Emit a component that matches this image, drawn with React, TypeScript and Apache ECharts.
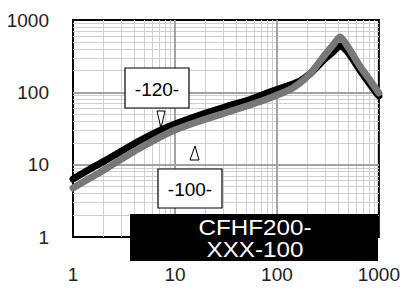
import React, { useEffect, useRef } from "react";
import * as echarts from "echarts";

// Frequency (x) values, log scale
const freq = [1, 1.47, 2.01, 2.89, 4.54, 7.14, 10, 17.6, 30.9, 54.4, 85, 134, 168, 210, 252, 295, 355, 387, 415, 454, 520, 650, 816, 1000];
// -100 curve (gray)
const gray100 = [4.76, 6.54, 8.44, 11.6, 17.0, 24.1, 30.2, 40.2, 51.8, 66.8, 83.5, 109, 135, 179, 246, 328, 451, 529, 582, 513, 385, 231, 148, 98];
// -120 curve (black)
const black120 = [6.34, 8.72, 11.1, 15.0, 21.6, 29.7, 36.5, 48.6, 62.7, 79.6, 101, 126, 143, 179, 231, 289, 361, 410, 437, 410, 328, 204, 130, 89];

const xTickLabels = ["1", "10", "100", "1000"];
const yTickLabels = ["1", "10", "100", "1000"];
const decades = [1, 10, 100];
const majorLines = [10, 100];
const minorMultipliers = [2, 3, 4, 5, 6, 7, 8, 9];

const FONT = "'Liberation Sans', Arial, sans-serif";

export default function App() {
  const ref = useRef<HTMLDivElement>(null);
  useEffect(() => {
    if (!ref.current) return;
    const chart = echarts.init(ref.current, undefined, { renderer: "svg" });
    const minorVals: number[] = [];
    decades.forEach((d) => minorMultipliers.forEach((m) => minorVals.push(d * m)));
    const minorStyle = { color: "#cfcfcf", width: 1, type: "solid" as const };
    const majorStyle = { color: "#a3a3a3", width: 2, type: "solid" as const };
    const gridLines: any[] = [];
    minorVals.forEach((v) => {
      gridLines.push({ xAxis: v, lineStyle: minorStyle });
      gridLines.push({ yAxis: v, lineStyle: minorStyle });
    });
    majorLines.forEach((v) => {
      gridLines.push({ xAxis: v, lineStyle: majorStyle });
      gridLines.push({ yAxis: v, lineStyle: majorStyle });
    });
    const fmt = (labels: string[]) => (v: number) => {
      const i = Math.round(Math.log10(v));
      return labels[i] ?? String(Math.round(v));
    };
    chart.setOption({
      animation: false,
      backgroundColor: "#fff",
      grid: {
        left: 73,
        top: 20,
        right: 24,
        bottom: 55,
        show: true,
        borderColor: "#000",
        borderWidth: 2,
        backgroundColor: "#fff",
      },
      xAxis: {
        type: "log",
        logBase: 10,
        min: 1,
        max: 1000,
        axisLine: { show: false },
        axisTick: { show: false },
        splitLine: { show: false },
        axisLabel: {
          margin: 28,
          fontSize: 19,
          fontFamily: FONT,
          color: "#222",
          formatter: fmt(xTickLabels),
        },
      },
      yAxis: {
        type: "log",
        logBase: 10,
        min: 1,
        max: 1000,
        axisLine: { show: false },
        axisTick: { show: false },
        splitLine: { show: false },
        axisLabel: {
          margin: 24,
          fontSize: 19,
          fontFamily: FONT,
          color: "#222",
          padding: [4, 0, 0, 0],
          formatter: fmt(yTickLabels),
        },
      },
      series: [
        {
          name: "grid",
          type: "line",
          data: [[1, 1]],
          showSymbol: false,
          lineStyle: { opacity: 0 },
          silent: true,
          z: 1,
          markLine: {
            silent: true,
            z: 1,
            symbol: ["none", "none"],
            label: { show: false },
            animation: false,
            data: gridLines,
          },
        },
        {
          name: "-120-",
          type: "line",
          data: freq.map((f, i) => [f, black120[i]]),
          showSymbol: false,
          smooth: 0.2,
          z: 3,
          lineStyle: { color: "#000", width: 7, cap: "round", join: "round" },
        },
        {
          name: "-100-",
          type: "line",
          data: freq.map((f, i) => [f, gray100[i]]),
          showSymbol: false,
          smooth: 0.2,
          z: 4,
          lineStyle: { color: "#787878", width: 7, cap: "round", join: "round" },
        },
      ],
      graphic: [
        {
          type: "rect",
          z: 100,
          shape: { x: 125, y: 68, width: 64, height: 40 },
          style: { fill: "#fff", stroke: "#000", lineWidth: 1.2 },
        },
        {
          type: "text",
          z: 101,
          x: 157,
          y: 89,
          style: { text: "-120-", fill: "#000", font: `19px ${FONT}`, align: "center", verticalAlign: "middle" },
        },
        {
          type: "polygon",
          z: 100,
          shape: { points: [[157, 111], [165, 111], [161, 128]] },
          style: { fill: "#fff", stroke: "#000", lineWidth: 1 },
        },
        {
          type: "rect",
          z: 100,
          shape: { x: 158, y: 169, width: 64, height: 39 },
          style: { fill: "#fff", stroke: "#000", lineWidth: 1.2 },
        },
        {
          type: "text",
          z: 101,
          x: 190,
          y: 189,
          style: { text: "-100-", fill: "#000", font: `19px ${FONT}`, align: "center", verticalAlign: "middle" },
        },
        {
          type: "polygon",
          z: 100,
          shape: { points: [[190, 160], [199, 160], [195, 146]] },
          style: { fill: "#fff", stroke: "#000", lineWidth: 1 },
        },
        {
          type: "rect",
          z: 100,
          shape: { x: 130, y: 214, width: 248, height: 47 },
          style: { fill: "#000" },
        },
        {
          type: "text",
          z: 101,
          x: 255,
          y: 238,
          scaleX: 1.1,
          style: {
            text: "CFHF200-\nXXX-100",
            fill: "#fff",
            font: `22px ${FONT}`,
            lineHeight: 22,
            align: "center",
            verticalAlign: "middle",
          },
        },
      ],
    });
    return () => chart.dispose();
  }, []);
  return (
    <div
      ref={ref}
      style={{ position: "absolute", left: 0, top: 0, width: 403, height: 292, background: "#fff" }}
    />
  );
}
